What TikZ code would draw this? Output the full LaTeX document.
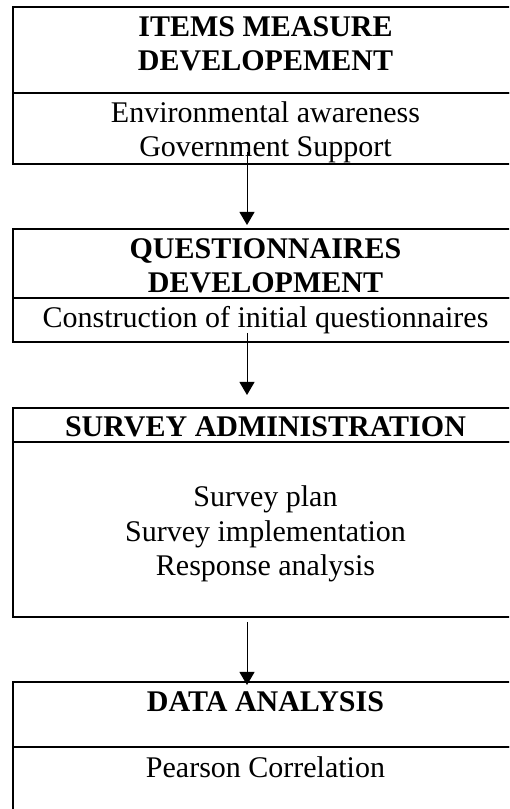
\documentclass[tikz,border=0pt]{standalone}
\usepackage{fontspec}
\setmainfont{Liberation Serif}
\usepackage{tikz}
\usetikzlibrary{positioning,arrows.meta}
\newcommand{\boxfont}{\fontsize{15pt}{17.25pt}\selectfont}
\tikzstyle{frame} = [draw, line width=1pt, minimum width=252.5pt, inner sep=0pt, outer sep=0pt]
\tikzstyle{flow} = [-{Triangle[width=7.5pt,length=6.5pt]}, line width=0.5pt]
\tikzstyle{headtxt} = [font=\boxfont\bfseries, align=center, inner sep=0pt]
\tikzstyle{bodytxt} = [font=\boxfont, align=center, inner sep=0pt]

\begin{document}
\begin{tikzpicture}[node distance=32.5pt]
    \useasboundingbox (0,0) rectangle (254.5pt,404.5pt);
    \clip (0,0) rectangle (254.5pt,404.5pt);
    % Frames
    \node[frame, minimum height=43pt, anchor=north west] (items-head) at (6.5pt,401pt) {};
    \node[frame, minimum height=35.5pt, below=0pt of items-head] (items-body) {};
    \node[frame, minimum height=34.5pt, below=of items-body] (quest-head) {};
    \node[frame, minimum height=22pt, below=0pt of quest-head] (quest-body) {};
    \node[frame, minimum height=17pt, below=33pt of quest-body] (survey-head) {};
    \node[frame, minimum height=87.5pt, below=0pt of survey-head] (survey-body) {};
    \node[frame, minimum height=32.5pt, below=of survey-body] (data-head) {};
    \node[frame, minimum height=40pt, below=0pt of data-head] (data-body) {};
    % Texts
    \node[headtxt, below=4.5pt of items-head.north] (items-title) {ITEMS MEASURE\\DEVELOPEMENT};
    \node[bodytxt, below=4pt of items-body.north] (items-list) {Environmental awareness\\Government Support};
    \node[headtxt, below=4.5pt of quest-head.north] (quest-title) {QUESTIONNAIRES\\DEVELOPMENT};
    \node[bodytxt, below=3.75pt of quest-body.north] (quest-list) {Construction of initial questionnaires};
    \node[headtxt, below=4pt of survey-head.north] (survey-title) {SURVEY ADMINISTRATION};
    \node[bodytxt, below=21.75pt of survey-body.north] (survey-list) {Survey plan\\Survey implementation\\Response analysis};
    \node[headtxt, below=4.5pt of data-head.north] (data-title) {DATA ANALYSIS};
    \node[bodytxt, below=4.75pt of data-body.north] (data-list) {Pearson Correlation};
    % Arrows
    \coordinate (spine) at (123.5pt,0);
    \draw[flow] ([yshift=6pt]spine |- items-body.south) -- ([yshift=2pt]spine |- quest-head.north);
    \draw[flow] ([yshift=4.5pt]spine |- quest-body.south) -- ([yshift=6.5pt]spine |- survey-head.north);
    \draw[flow] ([yshift=-2.5pt]spine |- survey-body.south) -- ([yshift=-1.5pt]spine |- data-head.north);
\end{tikzpicture}
\end{document}
